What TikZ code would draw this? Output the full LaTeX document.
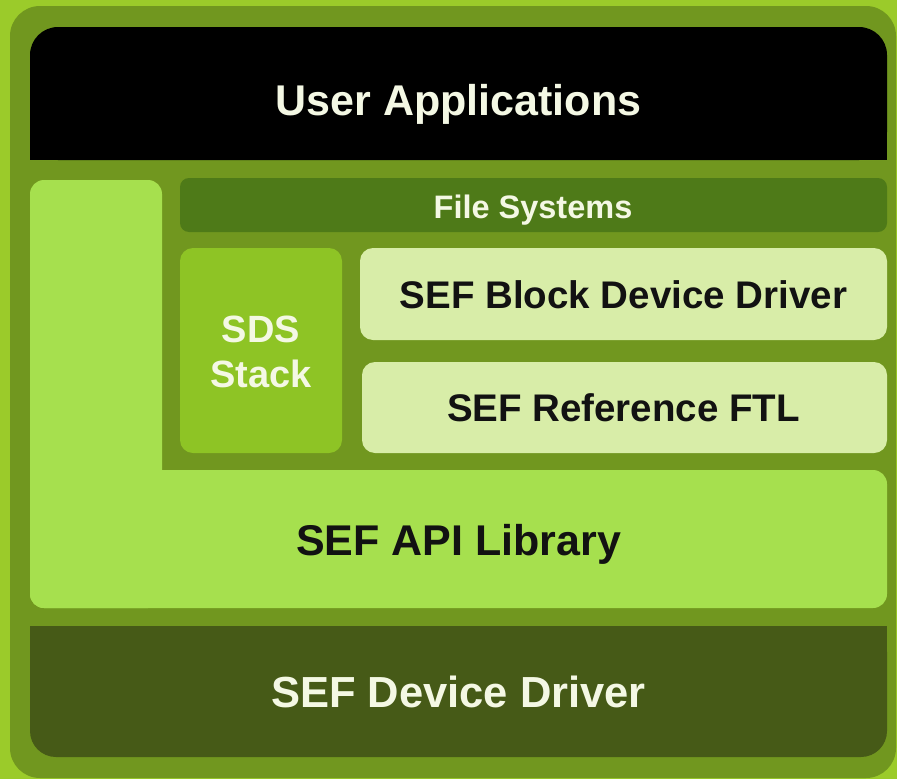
\documentclass[tikz,border=0pt]{standalone}
\usepackage{fontspec}
\setmainfont{Liberation Sans}

\definecolor{limebg}{RGB}{155,203,42}
\definecolor{olivepanel}{RGB}{113,151,31}
\definecolor{apigreen}{RGB}{166,224,78}
\definecolor{fsgreen}{RGB}{78,122,24}
\definecolor{sdsgreen}{RGB}{142,196,37}
\definecolor{palegreen}{RGB}{216,237,168}
\definecolor{drvgreen}{RGB}{70,90,23}
\definecolor{lighttext}{RGB}{244,248,228}

\begin{document}
\begin{tikzpicture}[x=1pt, y=-1pt,
    lbl/.style={font=\bfseries, inner sep=0pt, anchor=base},
    lightlbl/.style={lbl, text=lighttext},
    darklbl/.style={lbl, text=black!93}]

    \useasboundingbox (0,0) rectangle (897,779);

    %% Background and frame
    \fill[limebg] (0,0) rectangle (897,779);
    \fill[olivepanel, rounded corners=30] (10,6) rectangle (896,778);

    % User applications (rounded on top only)
    \fill[black, rounded corners=28] (30,27) rectangle (887,160);
    \fill[black] (30,100) rectangle (887,160);
    \node[lightlbl, font=\fontsize{43}{50}\bfseries] (apps) at (458.5,115) {User Applications};

    % SEF API library, L-shaped
    \fill[apigreen, rounded corners=14] (30,180) rectangle (162,608);
    \fill[apigreen, rounded corners=14] (30,470) rectangle (887,608);
    \node[darklbl, font=\fontsize{43}{50}\bfseries] (api) at (458.5,555) {SEF API Library};

    % File systems
    \fill[fsgreen, rounded corners=9] (180,178) rectangle (887,232);
    \node[lightlbl, font=\fontsize{32.5}{38}\bfseries] (fs) at (533,218) {File Systems};

    % SDS stack
    \fill[sdsgreen, rounded corners=13] (180,248) rectangle (342,453);
    \node[lightlbl, font=\fontsize{38}{45}\bfseries, align=center, anchor=center]
        (sds) at (261,352) {SDS\\Stack};

    % Block device driver and reference FTL
    \fill[palegreen, rounded corners=13] (360,248) rectangle (887,340);
    \node[darklbl, font=\fontsize{38.5}{45}\bfseries] (bdd) at (623.5,308) {SEF Block Device Driver};
    \fill[palegreen, rounded corners=13] (362,362) rectangle (887,453);
    \node[darklbl, font=\fontsize{38.5}{45}\bfseries] (ftl) at (623.5,421) {SEF Reference FTL};

    % SEF device driver (rounded at the bottom only)
    \fill[drvgreen, rounded corners=26] (30,626) rectangle (887,757);
    \fill[drvgreen] (30,626) rectangle (887,690);
    \node[lightlbl, font=\fontsize{43.5}{50}\bfseries] (drv) at (458.5,707) {SEF Device Driver};

\end{tikzpicture}
\end{document}
